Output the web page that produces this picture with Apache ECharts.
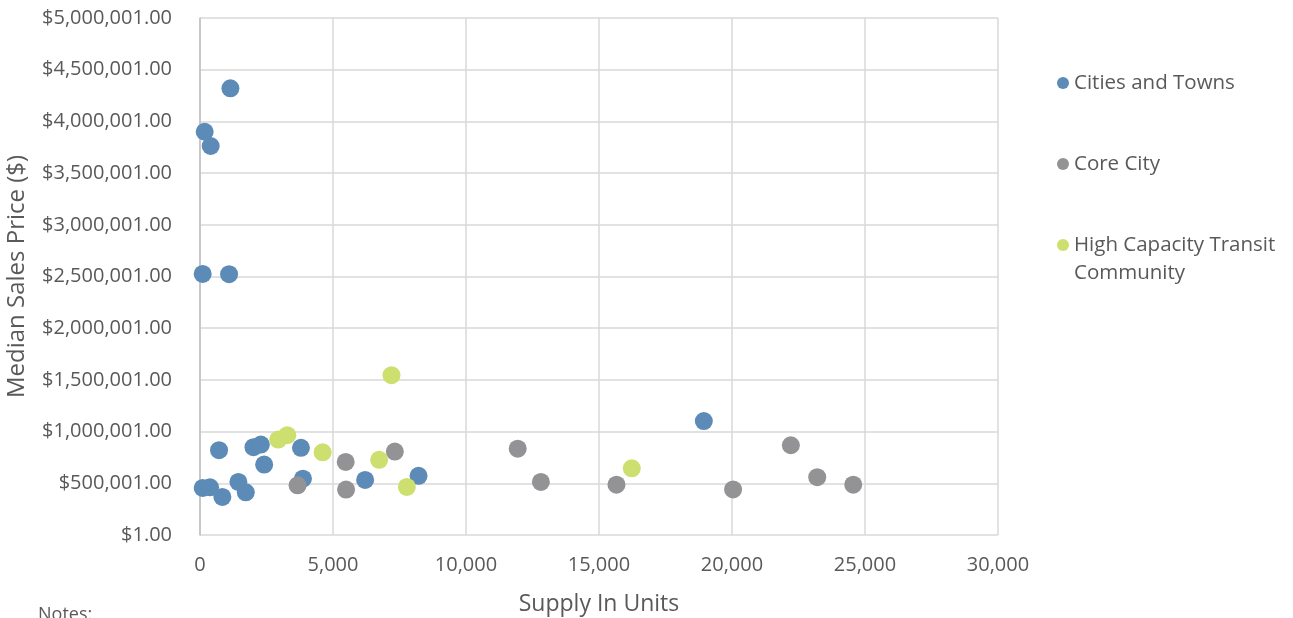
<!DOCTYPE html>
<html>
<head>
<meta charset="utf-8">
<script src="https://cdn.jsdelivr.net/npm/echarts@6/dist/echarts.min.js"></script>
<style>html,body{margin:0;padding:0;background:#fff}#c{width:1293px;height:618px}</style>
</head>
<body>
<div id="c"></div>
<script>
// Supply in units (x) and median sales price (y) per series
const citiesX = [1143, 176, 402, 101, 1093, 716, 2010, 2287, 2412, 3795, 3870, 101, 377, 841, 1444, 1721, 6208, 8216, 18941];
const citiesY = [4320000, 3900000, 3762000, 2525000, 2522000, 820000, 849000, 875000, 681000, 843000, 545000, 455000, 461000, 368000, 513000, 413000, 533000, 572000, 1102000];
const coreX = [3668, 5477, 5491, 7324, 11944, 12815, 15657, 20040, 22212, 23204, 24558];
const coreY = [481000, 707000, 439000, 807000, 835000, 513000, 487000, 441000, 868000, 559000, 487000];
const hctX = [7199, 2940, 3279, 4610, 6735, 7776, 16233];
const hctY = [1546000, 923000, 965000, 800000, 727000, 465000, 645000];
const seriesNames = ['Cities and Towns', 'Core City', 'High Capacity Transit\nCommunity'];
const xTicks = {min: 0, max: 30000, interval: 5000};
const yTicks = {min: 0, max: 5000000, interval: 500000};

const colors = ['#5b8bb6', '#939396', '#cddf6e'];
const zip = (xs, ys) => xs.map((x, i) => [x, ys[i]]);
const font = 'Open Sans';
const txt = '#595959';

const chart = echarts.init(document.getElementById('c'));
const legendBase = (name, top, fmt) => ({
  orient: 'vertical', left: 1057, top: top, padding: 0,
  itemWidth: 12, itemHeight: 12, icon: 'circle',
  data: [name],
  formatter: fmt || (n => n),
  textStyle: {fontFamily: font, fontSize: 20.5, color: txt, lineHeight: 28}
});
chart.setOption({
  animation: false,
  color: colors,
  grid: {left: 200, right: 295, top: 18, bottom: 83, containLabel: false, outerBoundsMode: 'none'},
  legend: [
    legendBase(seriesNames[0], 69),
    legendBase(seriesNames[1], 150),
    legendBase(seriesNames[2], 203, n => '\n' + n)
  ],
  graphic: [{type: 'text', left: 38, top: 606, style: {text: 'Notes:', font: '18px "Open Sans"', fill: txt}}],
  xAxis: {
    type: 'value', min: xTicks.min, max: xTicks.max, interval: xTicks.interval,
    name: 'Supply In Units', nameLocation: 'middle', nameGap: 58,
    nameTextStyle: {fontFamily: font, fontSize: 23, color: txt},
    axisLine: {show: false}, axisTick: {show: false},
    splitLine: {show: true, lineStyle: {color: '#d9d9d9', width: 1.5}},
    axisLabel: {fontFamily: font, fontSize: 20, color: txt, margin: 20,
      formatter: v => v.toLocaleString('en-US')}
  },
  yAxis: {
    type: 'value', min: yTicks.min, max: yTicks.max, interval: yTicks.interval,
    name: 'Median Sales Price ($)', nameLocation: 'middle', nameGap: 171,
    nameTextStyle: {fontFamily: font, fontSize: 24, color: txt},
    axisLine: {show: true, lineStyle: {color: '#bfbfbf', width: 1.5}}, axisTick: {show: false},
    splitLine: {show: true, lineStyle: {color: '#d9d9d9', width: 1.5}},
    axisLabel: {fontFamily: font, fontSize: 20, color: txt, margin: 28,
      formatter: v => '$' + (v + 1).toLocaleString('en-US') + '.00'}
  },
  series: [
    {name: seriesNames[0], type: 'scatter', symbolSize: 18, itemStyle: {opacity: 1}, data: zip(citiesX, citiesY)},
    {name: seriesNames[1], type: 'scatter', symbolSize: 18, itemStyle: {opacity: 1}, data: zip(coreX, coreY)},
    {name: seriesNames[2], type: 'scatter', symbolSize: 18, itemStyle: {opacity: 1}, data: zip(hctX, hctY)}
  ]
});
</script>
</body>
</html>
